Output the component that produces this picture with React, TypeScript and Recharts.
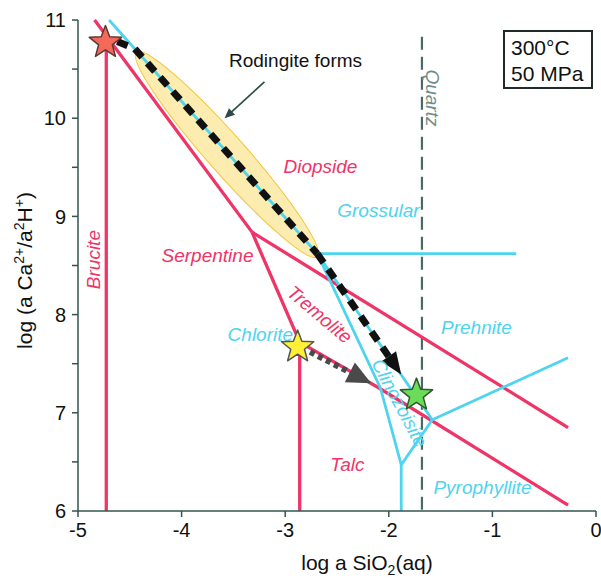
import React from 'react';
import { ComposedChart, Line, Scatter, XAxis, YAxis, ReferenceLine } from 'recharts';

const X_TICKS = [-5, -4, -3, -2, -1, 0];
const Y_TICKS = [6, 6.5, 7, 7.5, 8, 8.5, 9, 9.5, 10, 10.5, 11];

// pink boundaries (Mg phases)
const BRUCITE_EDGE = [{ x: -4.727, y: 10.77 }, { x: -4.727, y: 6 }];
const SERP_UPPER = [{ x: -4.84, y: 11 }, { x: -3.32, y: 8.84 }];
const DIOPSIDE_EDGE = [{ x: -3.32, y: 8.84 }, { x: -0.27, y: 6.85 }];
const SERP_TREM = [{ x: -3.32, y: 8.84 }, { x: -2.86, y: 7.72 }, { x: -2.86, y: 6 }];
const TREM_TALC = [{ x: -2.86, y: 7.72 }, { x: -2.09, y: 7.25 }, { x: -0.27, y: 6.06 }];

// cyan boundaries (Ca-Al phases)
const GROSS_LOWER = [{ x: -4.7, y: 11 }, { x: -2.69, y: 8.62 }, { x: -1.58, y: 6.93 }, { x: -0.27, y: 7.56 }];
const GROSS_PREH = [{ x: -2.69, y: 8.62 }, { x: -0.77, y: 8.62 }];
const CHLORITE_EDGE = [{ x: -2.69, y: 8.62 }, { x: -2.08, y: 7.25 }, { x: -1.88, y: 6.47 }, { x: -1.88, y: 6 }];
const CZO_PYRO = [{ x: -1.58, y: 6.93 }, { x: -1.88, y: 6.47 }];

const QUARTZ = [{ x: -1.68, y: 10.83 }, { x: -1.68, y: 6 }];

// reaction paths
const PATH_MAIN = [{ x: -4.62, y: 10.78 }, { x: -4.455, y: 10.71 }, { x: -2.69, y: 8.62 }, { x: -1.88, y: 7.39 }];
const PATH_CHLORITE = [{ x: -2.76, y: 7.62 }, { x: -2.17, y: 7.3 }];
const RODINGITE_ZONE = [{ x: -4.435, y: 10.67 }, { x: -2.69, y: 8.59 }];
const RODINGITE_POINTER = [{ x: -3.2, y: 10.37 }, { x: -3.585, y: 10.0 }];

const STARS = [
  { name: 'start', x: -4.735, y: 10.77 },
  { name: 'chlorite', x: -2.88, y: 7.67 },
  { name: 'end', x: -1.733, y: 7.18 },
];

const LABELS = [
  { name: 'Brucite', x: -4.85, y: 8.56 },
  { name: 'Serpentine', x: -3.75, y: 8.6 },
  { name: 'Diopside', x: -2.66, y: 9.51 },
  { name: 'Tremolite', x: -2.667, y: 8.0 },
  { name: 'Chlorite', x: -3.24, y: 7.8 },
  { name: 'Grossular', x: -2.1, y: 9.065 },
  { name: 'Prehnite', x: -1.154, y: 7.864 },
  { name: 'Clinozoisite', x: -1.897, y: 7.1 },
  { name: 'Talc', x: -2.4, y: 6.47 },
  { name: 'Pyrophyllite', x: -1.095, y: 6.244 },
  { name: 'Quartz', x: -1.578, y: 10.206 },
  { name: 'Rodingite forms', x: -2.9, y: 10.59 },
];

const PINK = '#ef3468';
const CYAN = '#4ed4ef';
const AXIS = '#34544f';
const FONT = '"Liberation Sans", Arial, sans-serif';

const LABEL_STYLE: Record<string, { color: string; angle?: number; italic?: boolean }> = {
  Brucite: { color: PINK, angle: -90 },
  Serpentine: { color: PINK },
  Diopside: { color: PINK },
  Tremolite: { color: PINK, angle: 40 },
  Chlorite: { color: CYAN },
  Grossular: { color: CYAN },
  Prehnite: { color: CYAN },
  Clinozoisite: { color: CYAN, angle: 62 },
  Talc: { color: PINK },
  Pyrophyllite: { color: CYAN },
  Quartz: { color: '#6f8c89', angle: 90 },
  'Rodingite forms': { color: '#111', italic: false },
};

const STAR_STYLE: Record<string, { fill: string; stroke: string }> = {
  start: { fill: '#f4695a', stroke: '#5b3a36' },
  chlorite: { fill: '#fff036', stroke: '#555' },
  end: { fill: '#6bdc5a', stroke: '#2f5a2c' },
};

const starPath = (cx: number, cy: number, r: number, ri: number) => {
  const pts: string[] = [];
  for (let i = 0; i < 10; i++) {
    const rad = i % 2 === 0 ? r : ri;
    const a = -Math.PI / 2 + (i * Math.PI) / 5;
    pts.push(`${cx + rad * Math.cos(a)},${cy + rad * Math.sin(a)}`);
  }
  return pts.join(' ');
};

const StarShape = (props: any) => {
  const { cx, cy, payload } = props;
  const s = STAR_STYLE[payload.name];
  return <polygon points={starPath(cx, cy, 17, 7.2)} fill={s.fill} stroke={s.stroke} strokeWidth={1.5} strokeLinejoin="round" />;
};

const LabelShape = (props: any) => {
  const { cx, cy, payload } = props;
  const s = LABEL_STYLE[payload.name];
  return (
    <text
      x={cx}
      y={cy}
      textAnchor="middle"
      dominantBaseline="central"
      fontSize={19}
      fontFamily={FONT}
      fontStyle={s.italic === false ? 'normal' : 'italic'}
      fill={s.color}
      transform={s.angle ? `rotate(${s.angle}, ${cx}, ${cy})` : undefined}
    >
      {payload.name}
    </text>
  );
};

// dashed shaft + filled head, drawn from the segment's pixel end points
const arrow = (color: string, width: number, dash: string, len: number, half: number) => (props: any) => {
  const { x1, y1, x2, y2 } = props;
  const a = Math.atan2(y2 - y1, x2 - x1);
  const bx = x2 - len * Math.cos(a);
  const by = y2 - len * Math.sin(a);
  const px = -Math.sin(a) * half;
  const py = Math.cos(a) * half;
  return (
    <g>
      <line x1={x1} y1={y1} x2={bx + Math.cos(a) * 2} y2={by + Math.sin(a) * 2} stroke={color} strokeWidth={width} strokeDasharray={dash} />
      <polygon points={`${x2},${y2} ${bx + px},${by + py} ${bx - px},${by - py}`} fill={color} />
    </g>
  );
};

const ellipseShape = (props: any) => {
  const { x1, y1, x2, y2 } = props;
  const cx = (x1 + x2) / 2;
  const cy = (y1 + y2) / 2;
  const rx = Math.hypot(x2 - x1, y2 - y1) / 2;
  const ang = (Math.atan2(y2 - y1, x2 - x1) * 180) / Math.PI;
  return (
    <ellipse
      cx={cx}
      cy={cy}
      rx={rx}
      ry={19}
      transform={`rotate(${ang}, ${cx}, ${cy})`}
      fill="#fbe07a"
      fillOpacity={0.6}
      stroke="#f3c43c"
      strokeWidth={1}
    />
  );
};

const YTitle = (props: any) => {
  const { viewBox } = props;
  const cx = 32;
  const cy = viewBox.y + viewBox.height / 2 + 5;
  return (
    <text x={cx} y={cy} textAnchor="middle" fontSize={21} fontFamily={FONT} fill="#111" transform={`rotate(-90, ${cx}, ${cy})`}>
      log (a Ca<tspan dy={-8} fontSize={14}>2+</tspan>
      <tspan dy={8}>/a</tspan>
      <tspan dy={-8} fontSize={14}>2</tspan>
      <tspan dy={8}>H</tspan>
      <tspan dy={-8} fontSize={14}>+</tspan>
      <tspan dy={8}>)</tspan>
    </text>
  );
};

const XTitle = (props: any) => {
  const { viewBox } = props;
  const cx = viewBox.x + viewBox.width / 2 + 30;
  return (
    <text x={cx} y={570} textAnchor="middle" fontSize={21} fontFamily={FONT} fill="#111">
      log a SiO<tspan dy={5} fontSize={14}>2</tspan>
      <tspan dy={-5}>(aq)</tspan>
    </text>
  );
};

const PINK_BOUNDARIES = [BRUCITE_EDGE, SERP_UPPER, DIOPSIDE_EDGE, SERP_TREM, TREM_TALC];
const CYAN_BOUNDARIES = [GROSS_LOWER, GROSS_PREH, CHLORITE_EDGE, CZO_PYRO];

export default function App() {
  return (
    <div style={{ position: 'absolute', left: 0, top: 0, width: 601, height: 580, background: '#fff' }}>
      <ComposedChart width={601} height={580} margin={{ top: 20, right: 5, left: 0, bottom: 0 }}>
        <XAxis
          type="number"
          dataKey="x"
          domain={[-5, 0]}
          ticks={X_TICKS}
          interval={0}
          height={69}
          tickSize={6}
          tickMargin={6}
          axisLine={{ stroke: AXIS, strokeWidth: 1.5 }}
          tickLine={{ stroke: AXIS, strokeWidth: 1.5 }}
          tick={{ fontSize: 20, fill: '#111', fontFamily: FONT }}
          label={<XTitle />}
        />
        <YAxis
          type="number"
          dataKey="y"
          domain={[6, 11]}
          ticks={Y_TICKS}
          interval={0}
          width={78}
          tickSize={6}
          tickMargin={6}
          axisLine={{ stroke: AXIS, strokeWidth: 1.5 }}
          tickLine={{ stroke: AXIS, strokeWidth: 1.5 }}
          tick={{ fontSize: 20, fill: '#111', fontFamily: FONT }}
          tickFormatter={(v: number) => (Number.isInteger(v) ? String(v) : '')}
          label={<YTitle />}
        />
        <ReferenceLine segment={RODINGITE_ZONE} shape={ellipseShape} ifOverflow="visible" />
        <Line data={QUARTZ} dataKey="y" stroke="#4b6964" strokeWidth={2.2} strokeDasharray="13 7" dot={false} isAnimationActive={false} />
        {PINK_BOUNDARIES.map((d, i) => (
          <Line key={`p${i}`} data={d} dataKey="y" stroke={PINK} strokeWidth={3.3} dot={false} isAnimationActive={false} />
        ))}
        {CYAN_BOUNDARIES.map((d, i) => (
          <Line key={`c${i}`} data={d} dataKey="y" stroke={CYAN} strokeWidth={2.8} dot={false} isAnimationActive={false} />
        ))}
        <Line data={PATH_MAIN.slice(0, 3)} dataKey="y" stroke="#111" strokeWidth={7} strokeDasharray="11 8" dot={false} isAnimationActive={false} />
        <ReferenceLine segment={PATH_MAIN.slice(2, 4)} shape={arrow('#111', 7, '11 8', 22, 9)} ifOverflow="visible" />
        <ReferenceLine segment={PATH_CHLORITE} shape={arrow('#4a4a4a', 6, '5 4', 24, 11)} ifOverflow="visible" />
        <ReferenceLine segment={RODINGITE_POINTER} shape={arrow('#2f4a46', 1.6, '', 10, 4.5)} ifOverflow="visible" />
        <Scatter data={LABELS} shape={LabelShape} isAnimationActive={false} />
        <Scatter data={STARS} shape={StarShape} isAnimationActive={false} />
      </ComposedChart>
      <div
        style={{
          position: 'absolute',
          left: 503,
          top: 30,
          width: 90,
          height: 59,
          boxSizing: 'border-box',
          border: '2px solid #1f2b29',
          padding: '3px 0 0 6px',
          fontFamily: FONT,
          fontSize: 21,
          lineHeight: '26px',
          color: '#111',
        }}
      >
        300°C
        <br />
        50 MPa
      </div>
    </div>
  );
}
